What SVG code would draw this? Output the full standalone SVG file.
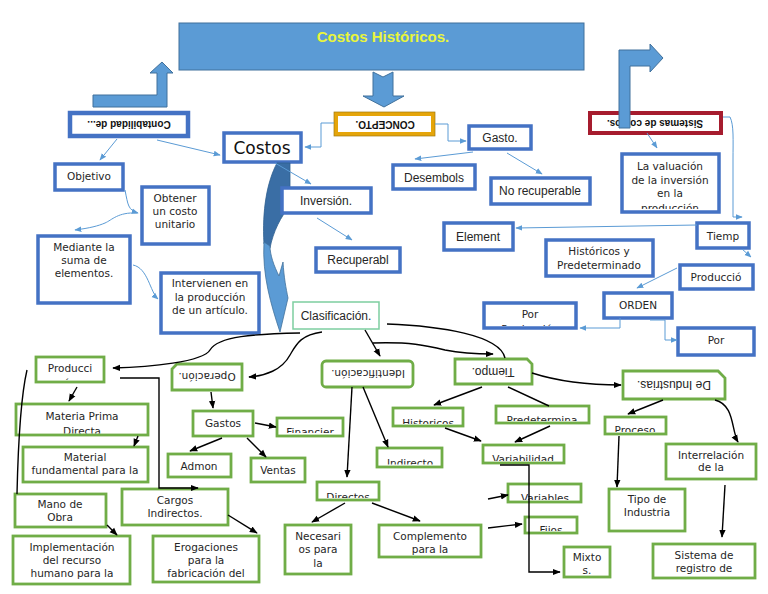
<svg xmlns="http://www.w3.org/2000/svg" width="768" height="594" viewBox="0 0 768 594">
<defs>
<style>
.bb{fill:#fff;stroke:#4472C4;stroke-width:3.5}
.gb{fill:#fff;stroke:#70AD47;stroke-width:2.8}
.lc{fill:none;stroke:#5B9BD5;stroke-width:1}
.la{marker-end:url(#mb)}
.bc{fill:none;stroke:#000;stroke-width:1.4}
.ka{marker-end:url(#mk)}
.d{font-family:"DejaVu Sans",sans-serif;font-size:10.5px;text-anchor:middle;fill:#262626}
.a{font-family:"Liberation Sans",Arial,sans-serif;font-size:12px;text-anchor:middle;fill:#262626}
.ub{font-family:"Liberation Sans",Arial,sans-serif;font-size:10px;font-weight:bold;text-anchor:middle;fill:#111}
.arr{fill:#5B9BD5;stroke:#41719C;stroke-width:1}
</style>
<marker id="mb" viewBox="0 0 10 10" refX="9" refY="5" markerWidth="7" markerHeight="7" orient="auto" markerUnits="userSpaceOnUse"><path d="M0,1 L10,5 L0,9 Z" fill="#5B9BD5"/></marker>
<marker id="mk" viewBox="0 0 10 10" refX="9" refY="5" markerWidth="8" markerHeight="8" orient="auto" markerUnits="userSpaceOnUse"><path d="M0,1 L10,5 L0,9 Z" fill="#000"/></marker>
<clipPath id="c-val"><rect x="622" y="154" width="97" height="55"/></clipPath>
<clipPath id="c-porl"><rect x="484" y="303" width="92" height="23"/></clipPath>
<clipPath id="c-prod"><rect x="36" y="357" width="68" height="23"/></clipPath>
<clipPath id="c-mat"><rect x="16" y="404" width="132" height="29.5"/></clipPath>
<clipPath id="c-fin"><rect x="277" y="418" width="66" height="15"/></clipPath>
<clipPath id="c-ind"><rect x="377" y="448" width="65" height="16.5"/></clipPath>
<clipPath id="c-dir"><rect x="317" y="482" width="62" height="16"/></clipPath>
<clipPath id="c-his"><rect x="393" y="408" width="70" height="16"/></clipPath>
<clipPath id="c-pre"><rect x="496" y="406" width="93" height="15"/></clipPath>
<clipPath id="c-var"><rect x="483" y="445" width="81" height="16"/></clipPath>
<clipPath id="c-vbl"><rect x="508" y="484" width="73" height="16"/></clipPath>
<clipPath id="c-fij"><rect x="525" y="517" width="52" height="14"/></clipPath>
<clipPath id="c-pro"><rect x="605" y="417" width="61" height="15"/></clipPath>
</defs>
<rect width="768" height="594" fill="#fff"/>

<g id="titulo">
<rect x="179" y="23" width="405" height="47" fill="#5B9BD5" stroke="#41719C" stroke-width="1"/>
<text x="383" y="42" font-family="Liberation Sans, Arial, sans-serif" font-size="15" font-weight="bold" text-anchor="middle" fill="#E9F53B">Costos Históricos.</text>
</g>

<g id="flechas-bloque">
<polygon class="arr" points="373,72 383,77 393,72 393,96 404,96 384,107 363,96 373,96"/>
<polygon class="arr" points="93,95 157,95 157,73 150,73 162,62 173,73 167,73 167,107 93,107"/>
</g>

<g id="contabilidad">
<rect x="70" y="113" width="118" height="23" fill="#fff" stroke="#4472C4" stroke-width="4.5"/>
<text class="ub" x="129" y="128" transform="rotate(180 129 124.5)">Contabilidad de...</text>
</g>

<g id="concepto">
<rect x="336" y="114" width="97" height="20" fill="#fff" stroke="#E5A50A" stroke-width="4"/>
<rect x="334" y="112" width="101" height="24" fill="none" stroke="#A07A10" stroke-width="0.7"/>
<text class="ub" x="385" y="127.5" transform="rotate(180 385 124)">CONCEPTO.</text>
</g>

<g id="sistemas">
<rect x="590" y="113" width="131" height="20" fill="#fff" stroke="#A61C2E" stroke-width="4"/>
<text class="ub" x="655" y="127" font-size="10.5" transform="rotate(180 655 123.5)">Sistemas de costos.</text>
<polygon class="arr" points="619,128 619,50 650,50 650,44 663,58 650,72 650,66 630,66 630,128"/>
</g>

<g id="costos">
<rect class="bb" x="224" y="133" width="77" height="29"/>
<text x="262" y="154" font-family="DejaVu Sans, sans-serif" font-size="17" text-anchor="middle" fill="#111">Costos</text>
</g>

<g id="flecha-curva">
<path d="M277,163 L290,163 L290,206 C281,216 273,232 270,248 L264,244 C262,210 267,182 277,163 Z" fill="#3A6EA5" stroke="#2F5F8F" stroke-width="0.8"/>
<path d="M264,242 C262,275 271,305 280,332 L288,298 C286,288 284,278 283,262 L279,276 C274,266 270,255 270,246 Z" fill="#5B9BD5" stroke="#41719C" stroke-width="0.8"/>
</g>

<g id="gasto"><rect class="bb" x="469" y="126" width="62" height="23"/><text class="a" x="500" y="142">Gasto.</text></g>
<g id="desembols"><rect class="bb" x="393" y="165" width="82" height="24"/><text class="a" x="434" y="181.5">Desembols</text></g>
<g id="norecuperable"><rect class="bb" x="491" y="178" width="99" height="26"/><text class="a" x="540" y="195" font-size="11.5">No recuperable</text></g>
<g id="inversion"><rect class="bb" x="282" y="188" width="89" height="25"/><text class="a" x="326" y="205">Inversión.</text></g>
<g id="recuperabl"><rect class="bb" x="316" y="248" width="84" height="24"/><text class="a" x="358" y="264">Recuperabl</text></g>
<g id="element"><rect class="bb" x="444" y="223" width="69" height="27"/><text class="a" x="478" y="241">Element</text></g>

<g id="valuacion">
<rect class="bb" x="622" y="154" width="97" height="58"/>
<g clip-path="url(#c-val)">
<text class="d" x="670" y="170">La valuación</text>
<text class="d" x="670" y="183.5">de la inversión</text>
<text class="d" x="670" y="197">en la</text>
<text class="d" x="670" y="211.5">producción</text>
</g>
</g>
<g id="tiemp"><rect class="bb" x="697" y="223" width="52" height="25"/><text class="d" x="723" y="240">Tiemp</text></g>
<g id="historicosypred"><rect class="bb" x="546" y="240" width="107" height="36"/><text class="d" x="599" y="255" font-size="10">Históricos y</text><text class="d" x="599" y="269" font-size="10">Predeterminado</text></g>
<g id="produccio"><rect class="bb" x="680" y="265" width="73" height="24"/><text class="d" x="716" y="281">Producció</text></g>
<g id="orden"><rect class="bb" x="604" y="293" width="68" height="25"/><text class="d" x="638" y="309">ORDEN</text></g>
<g id="porprod">
<rect class="bb" x="484" y="303" width="92" height="25"/>
<g clip-path="url(#c-porl)"><text class="d" x="530" y="318">Por</text><text class="d" x="530" y="333">Producción</text></g>
</g>
<g id="porder"><rect class="bb" x="678" y="328" width="76" height="27"/><text class="d" x="716" y="344">Por</text></g>

<g id="objetivo"><rect class="bb" x="55" y="164" width="68" height="26"/><text class="d" x="89" y="180">Objetivo</text></g>
<g id="obtener"><rect class="bb" x="142" y="187" width="67" height="57"/><text class="d" x="175" y="202">Obtener</text><text class="d" x="175" y="215">un costo</text><text class="d" x="175" y="228">unitario</text></g>
<g id="mediante"><rect class="bb" x="38" y="236" width="92" height="67"/><text class="d" x="84" y="251">Mediante la</text><text class="d" x="84" y="264">suma de</text><text class="d" x="84" y="277">elementos.</text></g>
<g id="intervienen"><rect class="bb" x="161" y="273" width="98" height="60"/><text class="d" x="210" y="287">Intervienen en</text><text class="d" x="210" y="301">la producción</text><text class="d" x="210" y="314">de un artículo.</text></g>

<g id="clasificacion"><rect x="293" y="302" width="86" height="27" fill="#fff" stroke="#7DCEA0" stroke-width="1.5"/><text class="a" x="336" y="320" font-size="11.5">Clasificación.</text></g>

<g id="producci">
<rect class="gb" x="36" y="357" width="68" height="25"/>
<g clip-path="url(#c-prod)"><text class="d" x="70" y="372">Producci</text><text class="d" x="70" y="387">ón</text></g>
</g>
<g id="materiaprima">
<rect class="gb" x="16" y="404" width="132" height="31"/>
<g clip-path="url(#c-mat)"><text class="d" x="82" y="420">Materia Prima</text><text class="d" x="82" y="435">Directa</text></g>
</g>
<g id="material"><rect class="gb" x="23" y="447" width="125" height="35"/><text class="d" x="85" y="461">Material</text><text class="d" x="85" y="474">fundamental para la</text></g>
<g id="manodeobra"><rect class="gb" x="15" y="494" width="91" height="33"/><text class="d" x="60" y="508">Mano de</text><text class="d" x="60" y="521">Obra</text></g>
<g id="implementacion"><rect class="gb" x="13" y="536" width="117" height="48"/><text class="d" x="72" y="551">Implementación</text><text class="d" x="72" y="564">del recurso</text><text class="d" x="72" y="577">humano para la</text></g>
<g id="cargos"><rect class="gb" x="122" y="489" width="106" height="36"/><text class="d" x="175" y="504">Cargos</text><text class="d" x="175" y="517">Indirectos.</text></g>
<g id="erogaciones"><rect class="gb" x="153" y="536" width="106" height="46"/><text class="d" x="206" y="551">Erogaciones</text><text class="d" x="206" y="564">para la</text><text class="d" x="206" y="577">fabricación del</text></g>

<g id="operacion">
<path class="gb" d="M177,364 L242,364 L242,390 L172,390 L172,369 Z"/>
<text class="d" x="207" y="381" transform="rotate(180 207 377)">Operación.</text>
</g>
<g id="gastos"><rect class="gb" x="193" y="411" width="60" height="25"/><text class="d" x="223" y="427">Gastos</text></g>
<g id="financier">
<rect class="gb" x="277" y="418" width="66" height="18"/>
<g clip-path="url(#c-fin)"><text class="d" x="310" y="436">Financier</text></g>
</g>
<g id="admon"><rect class="gb" x="168" y="454" width="63" height="23"/><text class="d" x="199" y="469.5">Admon</text></g>
<g id="ventas"><rect class="gb" x="251" y="458" width="54" height="24"/><text class="d" x="278" y="474">Ventas</text></g>

<g id="identificacion">
<rect class="gb" x="322" y="361" width="91" height="26" rx="4"/>
<text class="d" x="368" y="378" transform="rotate(180 368 374)">Identificación.</text>
</g>
<g id="indirecto">
<rect class="gb" x="377" y="448" width="65" height="19"/>
<g clip-path="url(#c-ind)"><text class="d" x="410" y="467">Indirecto</text></g>
</g>
<g id="directos">
<rect class="gb" x="317" y="482" width="62" height="18"/>
<g clip-path="url(#c-dir)"><text class="d" x="348" y="501">Directos</text></g>
</g>
<g id="necesarios"><rect class="gb" x="285" y="525" width="66" height="49"/><text class="d" x="318" y="540">Necesari</text><text class="d" x="318" y="553">os para</text><text class="d" x="318" y="567">la</text></g>
<g id="complemento"><rect class="gb" x="379" y="525" width="102" height="32"/><text class="d" x="430" y="540">Complemento</text><text class="d" x="430" y="553">para la</text></g>

<g id="tiempo">
<path class="gb" d="M455,359 L527,359 L532,364 L532,384 L455,384 Z"/>
<text class="a" x="493" y="375" font-size="11.5" transform="rotate(180 493 371.5)">Tiempo.</text>
</g>
<g id="historicos">
<rect class="gb" x="393" y="408" width="70" height="18"/>
<g clip-path="url(#c-his)"><text class="d" x="428" y="427">Historicos</text></g>
</g>
<g id="predetermina">
<rect class="gb" x="496" y="406" width="93" height="17"/>
<g clip-path="url(#c-pre)"><text class="d" x="542" y="423.5">Predetermina</text></g>
</g>
<g id="variabilidad">
<rect class="gb" x="483" y="445" width="81" height="18"/>
<g clip-path="url(#c-var)"><text class="d" x="523" y="462.5">Variabilidad</text></g>
</g>
<g id="variables">
<rect class="gb" x="508" y="484" width="73" height="18"/>
<g clip-path="url(#c-vbl)"><text class="d" x="545" y="502">Variables</text></g>
</g>
<g id="fijos">
<rect class="gb" x="525" y="517" width="52" height="16"/>
<g clip-path="url(#c-fij)"><text class="d" x="551" y="534">Fijos</text></g>
</g>
<g id="mixtos"><rect class="gb" x="564" y="547" width="46" height="30"/><text class="d" x="587" y="561">Mixto</text><text class="d" x="587" y="574">s.</text></g>

<g id="deindustrias">
<path class="gb" d="M623,371 L718,371 L725,378 L725,399 L623,399 Z"/>
<text class="a" x="674" y="389" font-size="11.5" transform="rotate(180 674 385)">De Industrias.</text>
</g>
<g id="proceso">
<rect class="gb" x="605" y="417" width="61" height="17"/>
<g clip-path="url(#c-pro)"><text class="d" x="635" y="434">Proceso</text></g>
</g>
<g id="interrelacion"><rect class="gb" x="666" y="444" width="90" height="35"/><text class="d" x="711" y="459">Interrelación</text><text class="d" x="711" y="471">de la</text></g>
<g id="tipoindustria"><rect class="gb" x="609" y="489" width="76" height="42"/><text class="d" x="647" y="503">Tipo de</text><text class="d" x="647" y="516">Industria</text></g>
<g id="sistemaregistro"><rect class="gb" x="653" y="544" width="102" height="34"/><text class="d" x="704" y="559">Sistema de</text><text class="d" x="704" y="572">registro de</text></g>

<g id="conectores">
<path class="lc la" d="M117,139 L100,160"/>
<path class="lc la" d="M157,140 L220,155"/>
<path class="lc la" d="M334,123 L321,123 L321,147 L305,147"/>
<path class="lc la" d="M435,124 L448,124 L448,141 L466,141"/>
<path class="lc la" d="M473,152 L415,159"/>
<path class="lc la" d="M507,153 L542,174"/>
<path class="lc la" d="M275,163 L311,184"/>
<path class="lc la" d="M317,218 L352,240"/>
<path class="lc la" d="M125,190 C128,205 128,210 138,213"/>
<path class="lc la" d="M137,213 C118,212 112,220 105,223 C98,226 90,228 75,230"/>
<path class="lc la" d="M133,265 C148,268 150,292 158,299"/>
<path class="lc la" d="M647,133 L657,148"/>
<path class="lc la" d="M723,117 L730,117 C734,125 733,140 733,160 L733,217 L742,217"/>
<path class="lc la" d="M697,225 L516,228"/>
<path class="lc la" d="M742,249 L751,257"/>
<path class="lc la" d="M677,268 L637,288"/>
<path class="lc la" d="M620,318 L620,328 L580,328"/>
<path class="lc la" d="M650,320 L665,320 L665,340 L677,340"/>

<path class="bc ka" d="M300,333 C255,334 218,336 210,350 C203,362 150,367 113,368"/>
<path class="bc ka" d="M322,332 C300,335 296,345 290,355 C282,370 265,376 249,377"/>
<path class="bc" d="M27,370 C20,400 18,450 17,494"/>
<path class="bc ka" d="M77,387 L69,401"/>
<path class="bc ka" d="M138,436 L134,446"/>
<path class="bc ka" d="M120,378 L159,378 L159,488 L198,488"/>
<path class="bc ka" d="M107,525 L117,535"/>
<path class="bc ka" d="M228,515 L257,533"/>
<path class="bc ka" d="M211,392 L213,408"/>
<path class="bc ka" d="M255,423 L276,427"/>
<path class="bc ka" d="M222,438 L190,451"/>
<path class="bc ka" d="M247,438 L266,457"/>
<path class="bc ka" d="M365,330 L380,356"/>
<path class="bc ka" d="M352,387 L347,477"/>
<path class="bc ka" d="M363,387 L388,447"/>
<path class="bc ka" d="M345,503 L312,522"/>
<path class="bc ka" d="M372,503 L420,521"/>
<path class="bc" d="M387,324 C440,326 500,335 505,358"/>
<path class="bc ka" d="M373,343 C410,342 425,345 445,350 C460,353 475,354 493,354"/>
<path class="bc ka" d="M482,387 L434,405"/>
<path class="bc" d="M508,387 L549,406"/>
<path class="bc ka" d="M445,428 L481,441"/>
<path class="bc ka" d="M550,426 L515,442"/>
<path class="bc ka" d="M500,465 L529,465 L529,572 L560,572"/>
<path class="bc ka" d="M488,499 L508,495"/>
<path class="bc ka" d="M488,528 L522,524"/>
<path class="bc ka" d="M532,373 C560,382 590,385 621,385"/>
<path class="bc ka" d="M663,400 L628,414"/>
<path class="bc ka" d="M715,400 C735,405 731,430 738,442"/>
<path class="bc ka" d="M619,436 L617,487"/>
<path class="bc ka" d="M725,485 L722,537"/>
</g>
</svg>
